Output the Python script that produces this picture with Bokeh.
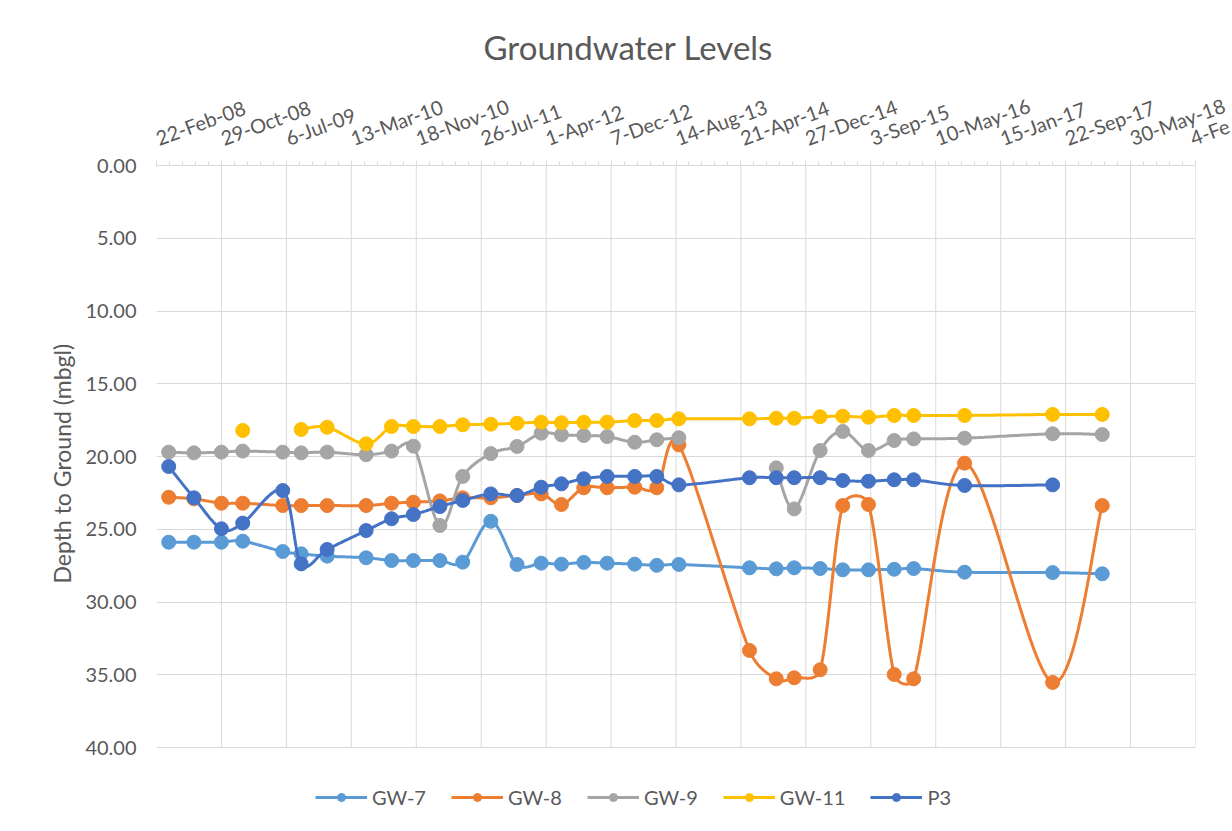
import numpy as np
import pandas as pd
from bokeh.plotting import figure
from bokeh.models import Range1d, FixedTicker, NumeralTickFormatter, Legend, LegendItem, Title
from bokeh.embed import file_html
from bokeh.resources import INLINE

# ---------------- data ----------------
dates = ["2008-04-09", "2008-07-15", "2008-10-29", "2009-01-19", "2009-06-22", "2009-09-01",
         "2009-12-10", "2010-05-09", "2010-08-15", "2010-11-07", "2011-02-17", "2011-05-16",
         "2011-09-01", "2011-12-11", "2012-03-13", "2012-05-30", "2012-08-24", "2012-11-22",
         "2013-03-08", "2013-06-01", "2013-08-25", "2014-05-24", "2014-09-04", "2014-11-12",
         "2015-02-20", "2015-05-18", "2015-08-25", "2015-12-02", "2016-02-15", "2016-08-29",
         "2017-08-03", "2018-02-10"]

gw7 = [25.89, 25.89, 25.89, 25.82, 26.53, 26.69, 26.85, 26.96, 27.15, 27.15, 27.15, 27.26,
       24.45, 27.42, 27.33, 27.40, 27.28, 27.33, 27.40, 27.48, 27.42, 27.65, 27.72, 27.65,
       27.70, 27.79, 27.79, 27.75, 27.70, 27.95, 27.98, 28.06]
gw8 = [22.80, 22.91, 23.21, 23.21, 23.37, 23.37, 23.37, 23.37, 23.21, 23.14, 23.05, 22.84,
       22.84, 22.68, 22.57, 23.30, 22.15, 22.15, 22.11, 22.15, 19.20, 33.33, 35.28, 35.21,
       34.66, 23.37, 23.30, 34.98, 35.28, 20.46, 35.53, 23.37]
gw9 = [19.70, 19.75, 19.70, 19.63, 19.70, 19.75, 19.70, 19.88, 19.63, 19.29, 24.74, 21.37,
       19.80, 19.31, 18.40, 18.51, 18.56, 18.63, 19.02, 18.85, 18.71, None, 20.78, 23.60,
       19.59, 18.28, 19.59, 18.90, 18.79, 18.74, 18.44, 18.49]
gw11 = [None, None, None, 18.21, None, 18.14, 17.99, 19.13, 17.94, 17.94, 17.94, 17.82,
        17.78, 17.71, 17.64, 17.68, 17.64, 17.64, 17.53, 17.53, 17.41, 17.41, 17.37, 17.37,
        17.27, 17.23, 17.30, 17.18, 17.18, 17.18, 17.11, 17.11]
p3 = [20.69, 22.84, 24.97, 24.58, 22.34, 27.38, 26.39, 25.09, 24.28, 23.99, 23.44, 23.02,
      22.57, 22.68, 22.11, 21.88, 21.53, 21.37, 21.37, 21.37, 21.95, 21.46, 21.46, 21.46,
      21.46, 21.65, 21.70, 21.60, 21.60, 21.99, 21.95, None]

series_names = ["GW-7", "GW-8", "GW-9", "GW-11", "P3"]
series_values = [gw7, gw8, gw9, gw11, p3]
series_colors = ["#5B9BD5", "#ED7D31", "#A5A5A5", "#FFC000", "#4472C4"]

# the last label is cut off at the right edge of the reference picture
x_tick_labels = ["22-Feb-08", "29-Oct-08", "6-Jul-09", "13-Mar-10", "18-Nov-10", "26-Jul-11",
                 "1-Apr-12", "7-Dec-12", "14-Aug-13", "21-Apr-14", "27-Dec-14", "3-Sep-15",
                 "10-May-16", "15-Jan-17", "22-Sep-17", "30-May-18", "4-Fe"]
x_start = "2008-02-22"
x_major_unit = 250
y_ticks = [0, 5, 10, 15, 20, 25, 30, 35, 40]

title_text = "Groundwater Levels"
y_title = "Depth to Ground (mbgl)"

# ---------------- helpers ----------------
EPOCH = pd.Timestamp("1899-12-30")


def serial(d):
    return float((pd.Timestamp(d) - EPOCH).days)


xs = np.array([serial(d) for d in dates])
x0 = serial(x_start)
x_ticks = [x0 + x_major_unit * k for k in range(len(x_tick_labels))]

Y_MAX = y_ticks[-1]
PLOT_W, PLOT_H = 1039, 582          # the gridded plot area
FRAME_H = 666                       # frame extends below the plot area to hold the legend
SX = PLOT_W / (x_ticks[-1] - x_ticks[0])   # px per day
SY = PLOT_H / float(Y_MAX)                 # px per metre


def smooth(x, y, n=30):
    """Excel-like smoothed line (Bezier, control arm limited to half the chord)."""
    segs, cur = [], []
    for xi, yi in zip(x, y):
        if yi is None:
            if cur:
                segs.append(cur)
            cur = []
        else:
            cur.append((xi * SX, yi * SY))
    if cur:
        segs.append(cur)
    ox, oy = [], []
    t = np.linspace(0, 1, n)
    for seg in segs:
        if len(seg) < 2:
            continue
        P = np.array(seg, dtype=float)
        P = np.vstack([P[0], P, P[-1]])
        for i in range(1, len(P) - 2):
            p0, p1, p2, p3_ = P[i - 1], P[i], P[i + 1], P[i + 2]
            d12 = np.hypot(*(p2 - p1))
            d02 = np.hypot(*(p2 - p0))
            d13 = np.hypot(*(p3_ - p1))
            f1 = 1 / 6.0 if d02 / 6.0 < d12 / 2.0 else (d12 / (2 * d02) if d02 > 0 else 0)
            f2 = 1 / 6.0 if d13 / 6.0 < d12 / 2.0 else (d12 / (2 * d13) if d13 > 0 else 0)
            c1 = p1 + (p2 - p0) * f1
            c2 = p2 - (p3_ - p1) * f2
            B = (((1 - t) ** 3)[:, None] * p1 + (3 * (1 - t) ** 2 * t)[:, None] * c1
                 + (3 * (1 - t) * t ** 2)[:, None] * c2 + (t ** 3)[:, None] * p2)
            ox.extend((B[:, 0] / SX).tolist())
            oy.extend((B[:, 1] / SY).tolist())
        ox.append(np.nan)
        oy.append(np.nan)
    return ox, oy


FONT = "Lato"
GREY = "#595959"
GRID = "#D9D9D9"

p = figure(frame_width=PLOT_W, frame_height=FRAME_H,
           min_border_left=156, min_border_top=165, min_border_right=37, min_border_bottom=0,
           x_range=Range1d(x_ticks[0], x_ticks[-1]),
           y_range=Range1d(Y_MAX * FRAME_H / PLOT_H, 0),
           x_axis_location="above", output_backend="svg", toolbar_location=None,
           background_fill_color="white", border_fill_color="white",
           title=title_text)
p.outline_line_color = None

p.title.align = "left"
p.title.offset = 327
p.title.text_font = FONT
p.title.text_font_size = "33px"
p.title.text_font_style = "normal"
p.title.text_color = GREY
p.title.standoff = 24

# x axis (top)
xa = p.xaxis[0]
minor = [x_ticks[0] + 50 * k for k in range(0, 81) if (k % 5) != 0]
xa.ticker = FixedTicker(ticks=x_ticks, minor_ticks=minor)
xa.major_label_overrides = {float(v): lab for v, lab in zip(x_ticks, x_tick_labels)}
xa.major_label_orientation = 0.35
xa.major_label_text_font = FONT
xa.major_label_text_font_size = "20px"
xa.major_label_text_color = GREY
xa.axis_line_color = GRID
xa.major_tick_line_color = GRID
xa.minor_tick_line_color = GRID
xa.major_tick_in = 0
xa.major_tick_out = 5
xa.minor_tick_in = 0
xa.minor_tick_out = 4
xa.major_label_standoff = 22

# y axis
ya = p.yaxis[0]
ya.ticker = FixedTicker(ticks=y_ticks)
ya.formatter = NumeralTickFormatter(format="0.00")
ya.axis_line_color = None
ya.major_tick_line_color = None
ya.minor_tick_line_color = None
ya.major_tick_out = 0
ya.major_tick_in = 0
ya.major_label_standoff = 20
ya.major_label_text_font = FONT
ya.major_label_text_font_size = "20px"
ya.major_label_text_color = GREY

# y axis title, centred on the gridded area (not on the taller frame)
y_title_obj = Title(text=y_title, align="left", offset=(FRAME_H - PLOT_H) + 164,
                    text_font=FONT, text_font_size="23px", text_font_style="normal",
                    text_color=GREY, standoff=14)
p.add_layout(y_title_obj, "left")

# grids: horizontal lines via the grid, vertical lines only over the plot area
p.xgrid.visible = False
p.ygrid.ticker = FixedTicker(ticks=y_ticks[1:])
p.ygrid.grid_line_color = GRID
gx = x_ticks[1:]
p.segment(x0=gx, y0=[y_ticks[0]] * len(gx), x1=gx, y1=[Y_MAX] * len(gx),
          line_color=GRID, line_width=1)

items = []
for name, vals, col in zip(series_names, series_values, series_colors):
    lx, ly = smooth(xs, vals)
    lr = p.line(lx, ly, line_color=col, line_width=3)
    mx = [x for x, v in zip(xs, vals) if v is not None]
    my = [v for v in vals if v is not None]
    sr = p.scatter(mx, my, marker="circle", size=14, fill_color=col, line_color=col)
    items.append(LegendItem(label=name, renderers=[lr, sr]))

legend = Legend(items=items, orientation="horizontal", location=(159, 22),
                glyph_width=52, glyph_height=20, label_standoff=5, spacing=25,
                padding=0, margin=0, border_line_color=None, background_fill_alpha=0,
                label_text_font=FONT, label_text_font_size="20px", label_text_color=GREY)
p.add_layout(legend, "center")

open("out.html", "w").write(file_html(p, INLINE))
